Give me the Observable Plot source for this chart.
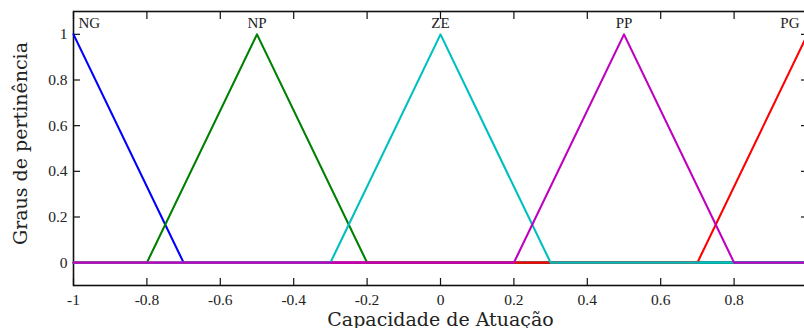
<!DOCTYPE html>
<html>
<head>
<meta charset="utf-8">
<script src="https://cdn.jsdelivr.net/npm/d3@7"></script>
<script src="https://cdn.jsdelivr.net/npm/@observablehq/plot@0.6"></script>
<style>
  html, body { margin: 0; padding: 0; background: white; overflow: hidden; }
</style>
</head>
<body>
<div id="chart"></div>
<script>
// Membership function vertices (x, y)
const ngX = [-1, -0.7, 1];          const ngY = [1, 0, 0];
const npX = [-1, -0.8, -0.5, -0.2, 1]; const npY = [0, 0, 1, 0, 0];
const zeX = [-1, -0.3, 0, 0.3, 1];  const zeY = [0, 0, 1, 0, 0];
const ppX = [-1, 0.2, 0.5, 0.8, 1]; const ppY = [0, 0, 1, 0, 0];
const pgX = [-1, 0.7, 1];           const pgY = [0, 0, 1];

const seriesNames = ["NG", "NP", "PG", "ZE", "PP"]; // drawing order
const seriesColors = {NG: "#0000ff", NP: "#008000", ZE: "#00bfbf", PP: "#bf00bf", PG: "#ff0000"};
const seriesXs = {NG: ngX, NP: npX, ZE: zeX, PP: ppX, PG: pgX};
const seriesYs = {NG: ngY, NP: npY, ZE: zeY, PP: ppY, PG: pgY};

// Labels over the peaks
const labelNames = ["NG", "NP", "ZE", "PP", "PG"];
const labelX = [-1, -0.5, 0, 0.5, 1];
const labelY = [1.05, 1.05, 1.05, 1.05, 1.05];

const xTicks = [-1, -0.8, -0.6, -0.4, -0.2, 0, 0.2, 0.4, 0.6, 0.8, 1];
const xTickLabels = ["-1", "-0.8", "-0.6", "-0.4", "-0.2", "0", "0.2", "0.4", "0.6", "0.8"];
const yTicks = [0, 0.2, 0.4, 0.6, 0.8, 1];
const yTickLabels = ["0", "0.2", "0.4", "0.6", "0.8", "1"];

const xTitle = "Capacidade de Atuação";
const yTitle = "Graus de pertinência";

const rows = [];
for (const name of seriesNames) {
  seriesXs[name].forEach((x, i) => rows.push({series: name, x, y: seriesYs[name][i]}));
}
const labels = labelNames.map((n, i) => ({name: n, x: labelX[i], y: labelY[i]}));
const leftLabels = labels.filter(d => d.name === "NG");
const midLabels = labels.filter(d => d.name !== "NG" && d.name !== "PG");
const rightLabels = labels.filter(d => d.name === "PG");

const noText = () => "";
const lineMarks = seriesNames.map(name =>
  Plot.line(rows.filter(r => r.series === name), {x: "x", y: "y", stroke: seriesColors[name], strokeWidth: 2.1})
);
const textStyle = {x: "x", y: "y", text: "name", fontSize: 15, fill: "#222", lineAnchor: "middle"};
const titleFont = "'DejaVu Serif', serif";

const chart = Plot.plot({
  width: 804,
  height: 328,
  marginLeft: 73,
  marginRight: -3,
  marginTop: 11,
  marginBottom: 43,
  x: {domain: [-1, 1]},
  y: {domain: [-0.1, 1.1]},
  style: {fontFamily: "'Liberation Serif', 'DejaVu Serif', serif", fontSize: "15px", color: "#222", background: "white"},
  marks: [
    Plot.frame({stroke: "#111", strokeWidth: 1.6}),
    // inward tick marks
    Plot.axisX({anchor: "bottom", ticks: xTicks, tickSize: 7, dy: -7, tickFormat: noText, label: null, stroke: "#111", strokeWidth: 1.2}),
    Plot.axisX({anchor: "top", ticks: xTicks, tickSize: 7, dy: 7, tickFormat: noText, label: null, stroke: "#111", strokeWidth: 1.2}),
    Plot.axisY({anchor: "left", ticks: yTicks, tickSize: 7, dx: 7, tickFormat: noText, label: null, stroke: "#111", strokeWidth: 1.2}),
    Plot.axisY({anchor: "right", ticks: yTicks, tickSize: 7, dx: -7, tickFormat: noText, label: null, stroke: "#111", strokeWidth: 1.2}),
    // tick labels
    Plot.axisX({anchor: "bottom", ticks: xTicks.slice(0, xTickLabels.length), tickSize: 0, tickPadding: 8, tickFormat: (d, i) => xTickLabels[i], label: null, fontSize: 15.5}),
    Plot.axisY({anchor: "left", ticks: yTicks, tickSize: 0, tickPadding: 6, tickFormat: (d, i) => yTickLabels[i], label: null, fontSize: 15.5}),
    // titles
    Plot.text([xTitle], {frameAnchor: "bottom", dy: 34.5, lineAnchor: "middle", fontSize: 19, fontFamily: titleFont, fontWeight: 300, fill: "#222"}),
    Plot.text([yTitle], {frameAnchor: "left", rotate: -90, textAnchor: "middle", dx: -53, dy: -5, lineAnchor: "middle", fontSize: 19, fontFamily: titleFont, fontWeight: 300, fill: "#222"}),
    ...lineMarks,
    Plot.text(leftLabels, {...textStyle, textAnchor: "start", dx: 5}),
    Plot.text(midLabels, {...textStyle, textAnchor: "middle"}),
    Plot.text(rightLabels, {...textStyle, textAnchor: "end", dx: -8})
  ]
});
document.getElementById("chart").appendChild(chart);
</script>
</body>
</html>
